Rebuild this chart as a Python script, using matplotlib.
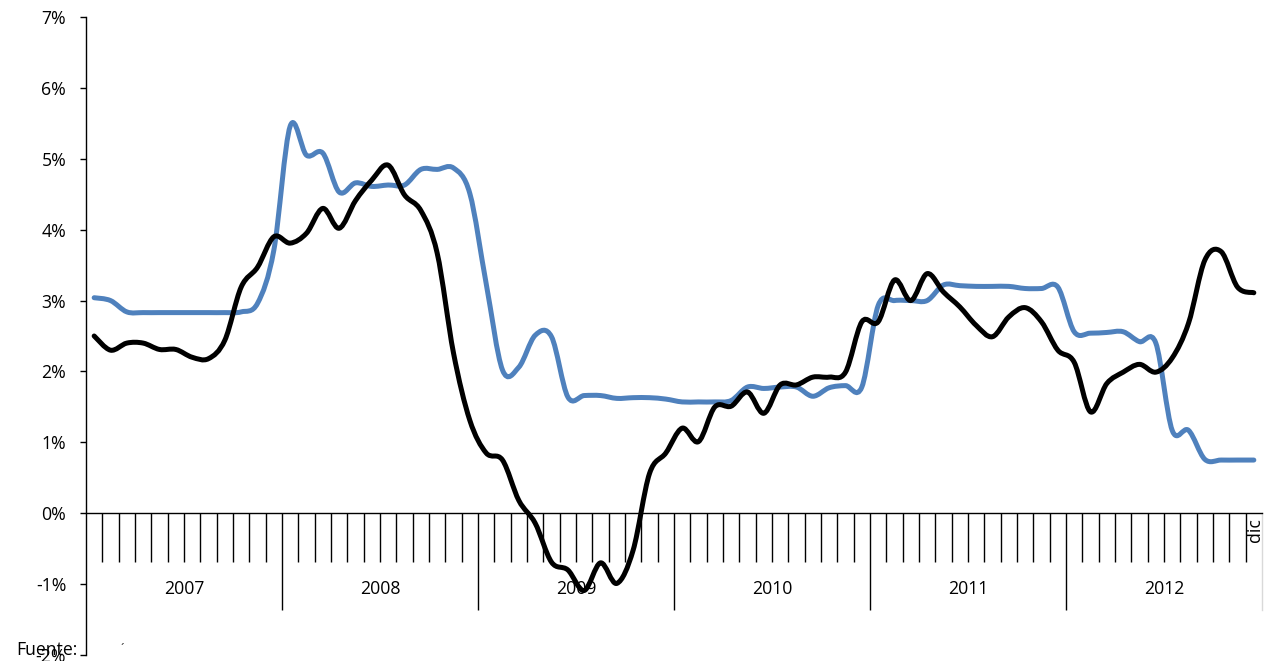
import matplotlib
matplotlib.use("Agg")
import matplotlib.pyplot as plt
from matplotlib.path import Path
from matplotlib.patches import PathPatch
from matplotlib.ticker import FixedLocator, FuncFormatter, NullFormatter
import numpy as np

plt.rcParams['font.family'] = ['Open Sans', 'DejaVu Sans']

years = ['2007', '2008', '2009', '2010', '2011', '2012']
last_month_label = 'dic'
y_ticks = [-2, -1, 0, 1, 2, 3, 4, 5, 6, 7]

black_series = [2.50, 2.30, 2.40, 2.40, 2.31, 2.31, 2.20, 2.18, 2.44, 3.19, 3.47, 3.90,
                3.81, 3.95, 4.30, 4.02, 4.41, 4.70, 4.91, 4.49, 4.27, 3.67, 2.26, 1.31,
                0.85, 0.75, 0.18, -0.14, -0.69, -0.80, -1.09, -0.70, -0.99, -0.52, 0.56, 0.85,
                1.20, 1.01, 1.50, 1.51, 1.71, 1.41, 1.81, 1.81, 1.92, 1.92, 1.99, 2.70,
                2.70, 3.29, 3.00, 3.38, 3.12, 2.91, 2.65, 2.49, 2.77, 2.90, 2.70, 2.30,
                2.13, 1.43, 1.83, 1.99, 2.10, 1.99, 2.19, 2.68, 3.57, 3.69, 3.19, 3.11]

blue_series = [3.04, 3.00, 2.84, 2.83, 2.83, 2.83, 2.83, 2.83, 2.83, 2.84, 2.96, 3.71,
               5.46, 5.05, 5.08, 4.53, 4.66, 4.61, 4.63, 4.63, 4.85, 4.85, 4.87, 4.51,
               3.24, 2.02, 2.06, 2.51, 2.49, 1.64, 1.66, 1.66, 1.62, 1.63, 1.63, 1.61,
               1.57, 1.57, 1.57, 1.59, 1.78, 1.76, 1.78, 1.78, 1.65, 1.77, 1.80, 1.78,
               2.93, 3.00, 3.00, 3.00, 3.22, 3.21, 3.20, 3.20, 3.20, 3.17, 3.17, 3.19,
               2.56, 2.54, 2.55, 2.56, 2.42, 2.40, 1.17, 1.17, 0.76, 0.75, 0.75, 0.75]


def smooth_path(xs, ys):
    xs = np.asarray(xs, float)
    ys = np.asarray(ys, float)
    n = len(xs)
    verts = [(xs[0], ys[0])]
    codes = [Path.MOVETO]
    for i in range(n - 1):
        p0 = np.array([xs[max(i - 1, 0)], ys[max(i - 1, 0)]])
        p1 = np.array([xs[i], ys[i]])
        p2 = np.array([xs[i + 1], ys[i + 1]])
        p3 = np.array([xs[min(i + 2, n - 1)], ys[min(i + 2, n - 1)]])
        c1 = p1 + (p2 - p0) / 6.0
        c2 = p2 - (p3 - p1) / 6.0
        verts += [tuple(c1), tuple(c2), tuple(p2)]
        codes += [Path.CURVE4, Path.CURVE4, Path.CURVE4]
    return Path(verts, codes)


fig = plt.figure(figsize=(12.74, 6.61), dpi=100)
ax = fig.add_axes([86 / 1274, 6 / 661, 1176 / 1274, 638 / 661])

n = len(black_series)
x = np.arange(n) + 0.5

for series, color, z in [(blue_series, '#4F81BD', 2), (black_series, '#000000', 3)]:
    patch = PathPatch(smooth_path(x, series), facecolor='none', edgecolor=color,
                      linewidth=3.6, capstyle='round', joinstyle='round', zorder=z)
    ax.add_patch(patch)

ax.set_xlim(0, n)
ax.set_ylim(-2, 7)

for s in ['top', 'right']:
    ax.spines[s].set_visible(False)
ax.spines['bottom'].set_position(('data', 0))
ax.spines['bottom'].set_color('#000000')
ax.spines['bottom'].set_linewidth(1.0)
ax.spines['left'].set_color('#000000')
ax.spines['left'].set_linewidth(1.0)

ax.yaxis.set_major_locator(FixedLocator(y_ticks))
ax.yaxis.set_major_formatter(FuncFormatter(lambda v, p: f"{int(round(v))}%"))
ax.tick_params(axis='y', direction='out', length=4.3, width=1.0, pad=10,
               labelsize=12.7, colors='#000000')

year_bounds = [12 * k for k in range(1, len(years))]
month_bounds = [m for m in range(1, n) if m % 12 != 0]
ax.xaxis.set_major_locator(FixedLocator(year_bounds))
ax.xaxis.set_minor_locator(FixedLocator(month_bounds))
ax.xaxis.set_major_formatter(NullFormatter())
ax.xaxis.set_minor_formatter(NullFormatter())
ax.tick_params(axis='x', which='major', direction='out', length=70, width=1.0, color='#000000')
ax.tick_params(axis='x', which='minor', direction='out', length=35, width=1.0, color='#000000')

# right-edge separator (light gray)
ax.plot([n, n], [0, -1.37], color='#D9D9D9', linewidth=1.0, clip_on=False, zorder=1)

for k, yr in enumerate(years):
    ax.text(12 * k + 6, -1.07, yr, ha='center', va='center', fontsize=12.7, color='#000000')

ax.text(n - 0.45, -0.07, last_month_label, rotation=90, ha='center', va='top',
        fontsize=12.7, color='#000000')

fig.text(16 / 1274, 6 / 661, 'Fuente:', ha='left', va='baseline', fontsize=12.7, color='#000000')
fig.text(120 / 1274, 8 / 661, '´', ha='left', va='baseline', fontsize=9, color='#333333')

fig.savefig('out.png', dpi=100)
